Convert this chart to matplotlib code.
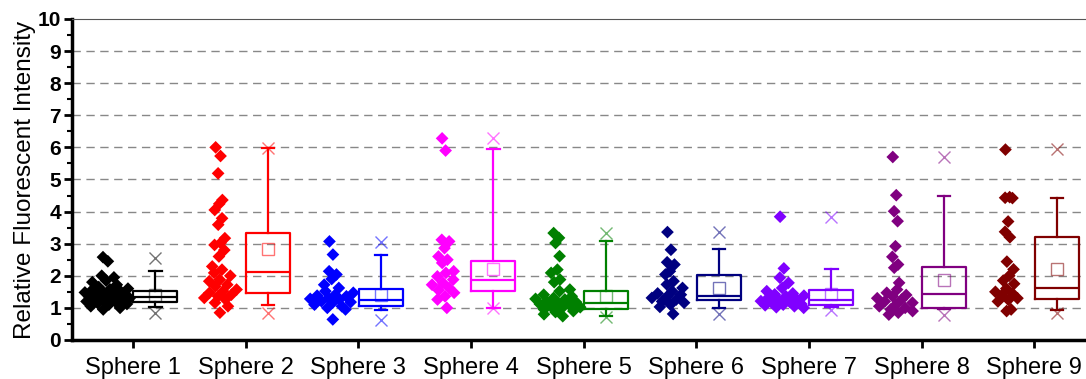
"""
Intensidad fluorescente relativa por esfera: puntos + boxplot
"""
import matplotlib
matplotlib.use('Agg')
import matplotlib.pyplot as plt
import numpy as np

plt.rcParams['font.family'] = ['Liberation Sans', 'DejaVu Sans']

# Datos
esferas = ['Sphere 1', 'Sphere 2', 'Sphere 3', 'Sphere 4', 'Sphere 5',
           'Sphere 6', 'Sphere 7', 'Sphere 8', 'Sphere 9']
colores = ['#000000', '#FF0000', '#0000FF', '#FF00FF', '#008000',
           '#000080', '#8000FF', '#800080', '#800000']

puntos_1 = [2.58, 2.45, 2.0, 1.95, 1.85, 1.8, 1.72, 1.65, 1.6, 1.58, 1.55, 1.5, 1.5,
            1.48, 1.45, 1.42, 1.4, 1.38, 1.35, 1.35, 1.32, 1.3, 1.28, 1.25, 1.25,
            1.22, 1.2, 1.18, 1.15, 1.12, 1.1, 1.05, 1.0, 0.95]
puntos_2 = [6.0, 5.73, 5.19, 4.36, 4.24, 4.05, 3.79, 3.59, 3.17, 3.02, 2.96, 2.8,
            2.6, 2.29, 2.19, 2.09, 2.0, 1.88, 1.83, 1.72, 1.67, 1.57, 1.52, 1.47,
            1.41, 1.36, 1.31, 1.26, 1.16, 1.05, 0.85]
puntos_3 = [3.07, 2.66, 2.14, 2.04, 1.9, 1.72, 1.62, 1.52, 1.47, 1.41, 1.38, 1.36,
            1.31, 1.28, 1.26, 1.21, 1.18, 1.16, 1.1, 1.05, 1.0, 0.95, 0.64]
puntos_4 = [6.28, 5.9, 3.12, 3.07, 2.86, 2.6, 2.5, 2.4, 2.14, 2.09, 1.98, 1.88,
            1.78, 1.72, 1.62, 1.55, 1.47, 1.36, 1.26, 1.0]
puntos_5 = [3.33, 3.18, 3.02, 2.61, 2.19, 2.09, 1.88, 1.8, 1.57, 1.52, 1.41, 1.36,
            1.31, 1.28, 1.26, 1.21, 1.18, 1.16, 1.12, 1.1, 1.05, 1.02, 1.0, 0.95,
            0.9, 0.87, 0.8, 0.74]
puntos_6 = [3.36, 2.81, 2.42, 2.35, 2.14, 2.04, 1.83, 1.73, 1.62, 1.52, 1.45,
            1.41, 1.35, 1.31, 1.26, 1.2, 1.16, 1.1, 1.03, 0.81]
puntos_7 = [3.84, 2.23, 1.94, 1.78, 1.62, 1.52, 1.45, 1.42, 1.38, 1.36, 1.3, 1.26,
            1.24, 1.21, 1.18, 1.16, 1.12, 1.1, 1.08, 1.05, 1.02, 1.0]
puntos_8 = [5.7, 4.51, 4.01, 3.7, 2.92, 2.59, 2.35, 2.25, 1.78, 1.57, 1.47, 1.4,
            1.36, 1.3, 1.26, 1.2, 1.16, 1.1, 1.05, 1.0, 0.95, 0.9, 0.85, 0.79]
puntos_9 = [5.93, 4.45, 4.43, 4.42, 3.69, 3.37, 3.2, 2.44, 2.2, 2.0, 1.85, 1.75,
            1.6, 1.5, 1.45, 1.4, 1.3, 1.25, 1.2, 0.95, 0.9]
puntos = [puntos_1, puntos_2, puntos_3, puntos_4, puntos_5,
          puntos_6, puntos_7, puntos_8, puntos_9]

# Estadisticos de cada caja
q1 = [1.17, 1.47, 1.06, 1.53, 0.96, 1.25, 1.09, 0.99, 1.28]
mediana = [1.33, 2.13, 1.23, 1.87, 1.14, 1.37, 1.25, 1.43, 1.61]
q3 = [1.53, 3.32, 1.59, 2.45, 1.54, 2.02, 1.56, 2.28, 3.20]
media = [1.40, 2.82, 1.40, 2.20, 1.37, 1.63, 1.43, 1.87, 2.20]
bigote_inf = [1.02, 1.09, 0.93, 0.99, 0.75, 1.01, 1.02, 0.95, 0.93]
bigote_sup = [2.16, 5.97, 2.65, 5.94, 3.09, 2.82, 2.21, 4.50, 4.43]
minimo = [0.85, 0.83, 0.62, 1.0, 0.71, 0.80, 0.93, 0.79, 0.83]
maximo = [2.54, 5.97, 3.04, 6.28, 3.34, 3.35, 3.84, 5.70, 5.94]

fig = plt.figure(figsize=(10.86, 3.79), dpi=100)
ax = fig.add_axes([0.0663, 0.103, 0.942, 0.847])

for i in range(len(esferas)):
    pos = i + 1
    color = colores[i]
    # puntos dispersos a la izquierda (ancho segun densidad local)
    vals = np.array(puntos[i])
    k = np.arange(len(vals))
    densidad = np.array([np.sum(np.abs(vals - v) < 0.3) for v in vals])
    amplitud = np.clip(0.035 * densidad, 0.05, 0.42)
    desp = ((k * 0.618034) % 1 - 0.5) * amplitud
    ax.scatter(pos - 0.23 + desp, vals, marker='D', s=42, color=color,
               edgecolors='none', zorder=3)

    # caja a la derecha
    stats = [{'q1': q1[i], 'med': mediana[i], 'q3': q3[i], 'mean': media[i],
              'whislo': bigote_inf[i], 'whishi': bigote_sup[i], 'fliers': []}]
    ax.bxp(stats, positions=[pos + 0.2], widths=0.39, capwidths=0.11,
           showmeans=True, showfliers=False, manage_ticks=False,
           boxprops=dict(color=color, linewidth=1.6),
           medianprops=dict(color=color, linewidth=1.6),
           whiskerprops=dict(color=color, linewidth=1.6),
           capprops=dict(color=color, linewidth=1.6),
           meanprops=dict(marker='s', markerfacecolor='none',
                          markeredgecolor=color, markersize=8,
                          markeredgewidth=1.0, alpha=0.55))
    ax.plot([pos + 0.2, pos + 0.2], [minimo[i], maximo[i]], linestyle='none',
            marker='x', markersize=9, markeredgewidth=1.0, color=color,
            alpha=0.55, zorder=4)

ax.set_xlim(0.46, 9.54)
ax.set_ylim(0, 10)
ax.set_xticks(range(1, len(esferas) + 1))
ax.set_xticklabels(esferas, fontsize=17)
ax.set_yticks(range(0, 11))
ax.set_yticks(np.arange(0.5, 10, 1), minor=True)
for lab in ax.get_yticklabels():
    lab.set_fontweight('bold')
    lab.set_fontsize(15)
ax.set_ylabel('Relative Fluorescent Intensity', fontsize=17.5, labelpad=1)

ax.tick_params(axis='both', which='major', direction='out', length=6, width=2, pad=2)
ax.tick_params(axis='y', which='minor', direction='out', length=3.5, width=1.5)
ax.tick_params(axis='x', which='major', pad=6)

ax.spines['left'].set_linewidth(2.5)
ax.spines['bottom'].set_linewidth(2.5)
ax.spines['top'].set_linewidth(0.8)
ax.spines['top'].set_color('#555555')
ax.spines['right'].set_visible(False)

for y in range(1, 10):
    ax.axhline(y, color='#888888', linestyle=(0, (6, 4)), linewidth=1.0, zorder=0)

fig.savefig('out.png', dpi=100)
